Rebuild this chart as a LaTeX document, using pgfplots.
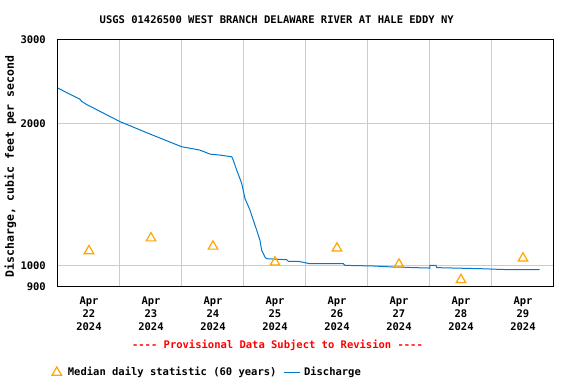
\documentclass[border=0pt]{standalone}
\usepackage{pgfplots}
\pgfplotsset{compat=1.18}
\usepackage{fontspec}
\setmonofont{DejaVu Sans Mono}
\definecolor{qblue}{RGB}{0,119,204}
\definecolor{qorange}{RGB}{255,165,0}
\definecolor{qgrid}{RGB}{204,204,204}
\pgfplotsset{
  medleg/.style={legend image code/.code={\draw[mark repeat=2,mark phase=2,##1] plot coordinates {(0bp,0bp)(5bp,0bp)(13bp,0bp)}; \path (-1bp,0bp) (13.5bp,0bp);}},
  disleg/.style={legend image code/.code={\draw[##1] (0bp,0bp) -- (16bp,0bp); \path (17.5bp,0bp);}},
}
\begin{document}
\begin{tikzpicture}
\useasboundingbox (-58bp,-97bp) rectangle (518bp,287bp);
\begin{axis}[
  at={(0,0)}, anchor=south west,
  scale only axis, width=496bp, height=247bp,
  xmin=0, xmax=8, ymode=log, ymin=900, ymax=3000,
  xtick={0.5,1.5,2.5,3.5,4.5,5.5,6.5,7.5},
  xticklabels={{Apr\\22\\2024},{Apr\\23\\2024},{Apr\\24\\2024},{Apr\\25\\2024},{Apr\\26\\2024},{Apr\\27\\2024},{Apr\\28\\2024},{Apr\\29\\2024}},
  minor xtick={1,2,3,4,5,6,7}, xminorgrids=true,
  ytick={900,1000,2000,3000}, yticklabels={900,1000,2000,3000}, ymajorgrids=true,
  minor ytick={}, 
  grid style={qgrid, line width=1bp},
  minor grid style={qgrid, line width=1bp},
  major tick length=0pt, minor tick length=0pt,
  axis line style={line width=1bp},
  tick label style={font=\fontsize{10.5bp}{12.8bp}\selectfont\ttfamily\bfseries},
  xticklabel style={align=center, anchor=north, inner sep=0pt, yshift=-10bp},
  yticklabel style={anchor=east, inner sep=0pt, xshift=-12bp},
  /pgf/number format/assume math mode=true,
  legend style={at={(-0.0161,-0.346)}, anchor=west, draw=none, fill=none,
    font=\fontsize{10.5bp}{12.8bp}\selectfont\ttfamily\bfseries,
    inner sep=0pt, /tikz/every even column/.append style={column sep=5bp}},
  legend columns=2, legend cell align=left,
  clip=false,
]
\addplot[only marks, mark=triangle, mark size=5.5bp, qorange, line width=1.2bp, medleg]
  coordinates {(0.5,1073) (1.5,1142) (2.5,1097) (3.5,1015) (4.5,1087) (5.5,1005) (6.5,932) (7.5,1035)};
\addlegendentry{Median daily statistic (60 years)}
\addplot[qblue, line width=1bp, mark=none, disleg]
  coordinates {(0,2372) (0.355,2247) (0.38,2225) (0.463,2190) (1.0,2015) (1.484,1897) (1.995,1783) (2.29,1754) (2.452,1720) (2.613,1712) (2.802,1698) (2.827,1671) (2.882,1591) (2.963,1491) (3.016,1385) (3.097,1309) (3.15,1246) (3.205,1187) (3.258,1130) (3.285,1076) (3.339,1041) (3.366,1033) (3.689,1028) (3.715,1020) (3.876,1020) (4.065,1008) (4.602,1008) (4.629,1000) (5.085,997) (5.403,992) (6.0,987) (6.0,1000) (6.097,1000) (6.108,989) (6.806,984) (7.29,979) (7.77,979)};
\addlegendentry{Discharge}
\end{axis}
\node[font=\fontsize{10.5bp}{12.8bp}\selectfont\ttfamily\bfseries] at (218.7bp,267bp) {USGS 01426500 WEST BRANCH DELAWARE RIVER AT HALE EDDY NY};
\node[rotate=90, font=\fontsize{11.5bp}{14bp}\selectfont\ttfamily\bfseries] at (-47.5bp,120.5bp) {Discharge, cubic feet per second};
\node[text=red, font=\fontsize{10.5bp}{12.8bp}\selectfont\ttfamily\bfseries] at (219.5bp,-58bp) {---- Provisional Data Subject to Revision ----};
\end{tikzpicture}
\end{document}
